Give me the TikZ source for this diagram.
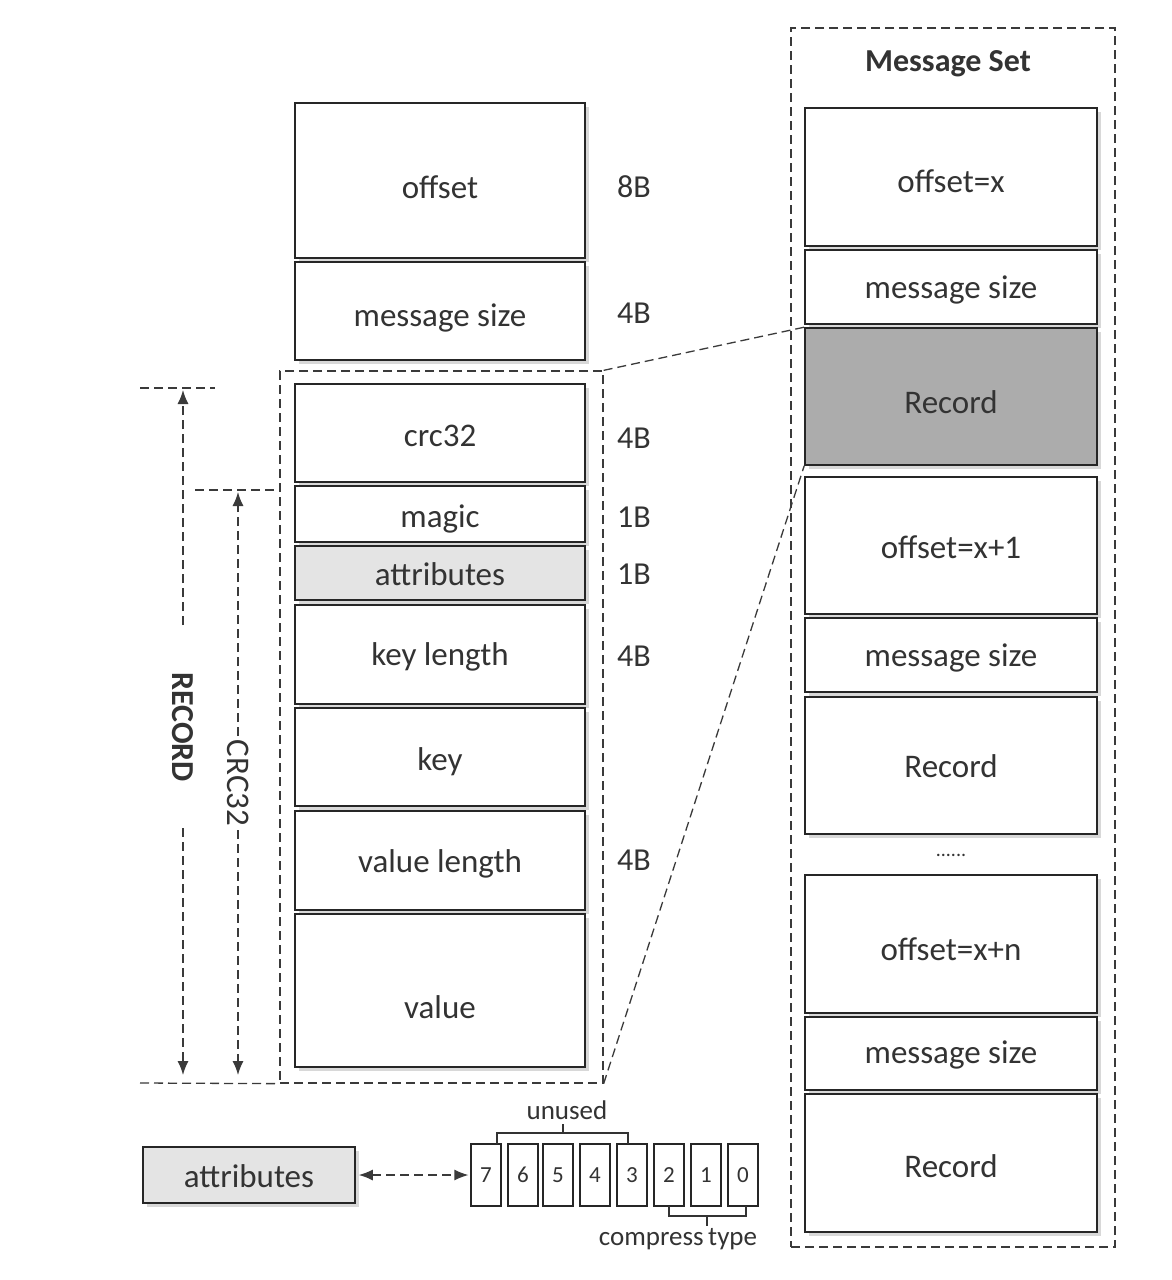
\documentclass[tikz,border=0pt]{standalone}
\usepackage{fontspec}
\setmainfont{Carlito}
\usetikzlibrary{arrows.meta,shadows,calc}
\definecolor{lightfill}{HTML}{E4E4E4}
\definecolor{recfill}{HTML}{ACACAC}
\definecolor{dashcol}{HTML}{3A3A3A}
\tikzset{
  fld/.style={draw=black!85, line width=1.6pt, fill=white, inner sep=0pt,
    font=\fontsize{33pt}{37pt}\selectfont, text=black!80, text height=32.4pt, text depth=6pt,
    drop shadow={shadow xshift=4pt, shadow yshift=-4pt, opacity=0.3}},
  th/.style={text height=#1},
  lw/.style={fld, minimum width=290pt},
  rw/.style={fld, minimum width=292pt},
  sz/.style={font=\fontsize{32pt}{36pt}\selectfont, text=black!80},
  dsh/.style={draw=dashcol, line width=1.3pt, dash pattern=on 9pt off 5pt},
  dsharr/.style={dsh, -{Latex[length=14pt,width=11pt]}},
  bit/.style={draw=black!85, line width=1.2pt, fill=white, minimum width=30pt, minimum height=62pt,
    inner sep=0pt, font=\fontsize{23pt}{26pt}\selectfont, text=black!80},
  brk/.style={draw=black!80, line width=1.4pt},
}
\begin{document}
\begin{tikzpicture}[x=1pt,y=-1pt]
\useasboundingbox (0,0) rectangle (1172,1280);
\fill[white] (0,0) rectangle (1172,1280);

% left column
\node[lw, minimum height=155pt, th=41.4pt] (offset) at (440,180.5) {offset};
\node[lw, minimum height=98pt, th=36.4pt] (msize) at (440,311) {message size};
\node[dsh, minimum width=323pt, minimum height=712pt, inner sep=0pt] (recbox) at (441.5,727) {};
\node[lw, minimum height=98pt] (crc) at (440,433) {crc32};
\node[lw, minimum height=56pt] (magic) at (440,514) {magic};
\node[lw, minimum height=54pt, fill=lightfill, th=30.4pt] (attr) at (440,573) {attributes};
\node[lw, minimum height=99pt, th=28.4pt] (keylen) at (440,654.5) {key length};
\node[lw, minimum height=98pt] (key) at (440,757) {key};
\node[lw, minimum height=99pt, th=30.4pt] (vallen) at (440,860.5) {value length};
\node[lw, minimum height=153pt, th=61.4pt] (value) at (440,990.5) {value};

% size labels
\node[sz] (s1) at (634,187) {8B};
\node[sz] (s2) at (634,313) {4B};
\node[sz] (s3) at (634,438) {4B};
\node[sz] (s4) at (634,517) {1B};
\node[sz] (s5) at (634,574) {1B};
\node[sz] (s6) at (634,656) {4B};
\node[sz] (s7) at (634,860) {4B};

% RECORD dimension
\coordinate (rtl) at (140,388);
\coordinate (rtr) at (215,388);
\coordinate (rbl) at (140,1083);
\draw[dsh] (rtl) -- (rtr);
\draw[dsh] (rbl) -- (recbox.south west);
\node[sz, rotate=-90, font=\bfseries\fontsize{32pt}{36pt}\selectfont] (reclbl) at (183,727) {RECORD};
\coordinate (ra1) at (183,625);
\coordinate (ra2) at (183,390);
\coordinate (rb1) at (183,828);
\coordinate (rb2) at (183,1075);
\draw[dsharr] (ra1) -- (ra2);
\draw[dsharr] (rb1) -- (rb2);

% CRC32 dimension
\coordinate (ctl) at (195,490);
\draw[dsh] (ctl) -- (recbox.west |- ctl);
\node[sz, rotate=-90, font=\fontsize{33pt}{36pt}\selectfont] (crclbl) at (238,783) {CRC32};
\coordinate (ca1) at (238,736);
\coordinate (ca2) at (238,492);
\coordinate (cb1) at (238,830);
\coordinate (cb2) at (238,1075);
\draw[dsharr] (ca1) -- (ca2);
\draw[dsharr] (cb1) -- (cb2);

% Message set
\node[dsh, minimum width=324pt, minimum height=1219pt, inner sep=0pt] (mset) at (953,637.5) {};
\node[sz, font=\bfseries\fontsize{32pt}{36pt}\selectfont] (msetlbl) at (948,64) {Message Set};
\node[rw, minimum height=138pt, th=36.4pt] (ox) at (951,177) {offset=x};
\node[rw, minimum height=74pt, th=28.4pt] (ms1) at (951,287) {message size};
\node[rw, minimum height=137pt, fill=recfill, th=39.4pt] (rec1) at (951,396.5) {Record};
\node[rw, minimum height=137pt, th=31.4pt] (ox1) at (951,545.5) {offset=x+1};
\node[rw, minimum height=74pt, th=28.4pt] (ms2) at (951,655) {message size};
\node[rw, minimum height=137pt, th=29.4pt] (rec2) at (951,765.5) {Record};
\node[sz, font=\fontsize{20pt}{24pt}\selectfont] (dots) at (951,855) {......};
\node[rw, minimum height=138pt, th=38.4pt] (oxn) at (951,944) {offset=x+n};
\node[rw, minimum height=73pt, th=26.4pt] (ms3) at (951,1053.5) {message size};
\node[rw, minimum height=138pt, th=34.4pt] (rec3) at (951,1163) {Record};

% zoom lines
\draw[dsh] (recbox.north east) -- (rec1.north west);
\draw[dsh] (recbox.south east) -- (rec1.south west);

% attributes bits
\node[fld, minimum width=212pt, minimum height=56pt, fill=lightfill, th=30.4pt] (battr) at (249,1175) {attributes};
\node[bit] (b7) at (486,1175) {7};
\node[bit] (b6) at (523,1175) {6};
\node[bit] (b5) at (558,1175) {5};
\node[bit] (b4) at (595,1175) {4};
\node[bit] (b3) at (632,1175) {3};
\node[bit] (b2) at (669,1175) {2};
\node[bit] (b1) at (706,1175) {1};
\node[bit] (b0) at (743,1175) {0};
\draw[dsh, {Latex[length=14pt,width=11pt]}-{Latex[length=14pt,width=11pt]}] ([xshift=3pt]battr.east) -- ([xshift=-2pt]b7.west);

\coordinate (u1) at (497,1144);
\coordinate (u2) at (628,1144);
\coordinate (ut) at (563,1124);
\draw[brk] (u1) -- (497,1133) -- (628,1133) -- (u2);
\draw[brk] (563,1133) -- (ut);
\node[sz, font=\fontsize{27pt}{30pt}\selectfont] (unused) at (567,1110) {unused};

\coordinate (c1) at (669,1206);
\coordinate (c2) at (746,1206);
\coordinate (ct) at (707,1226);
\draw[brk] (c1) -- (669,1216) -- (746,1216) -- (c2);
\draw[brk] (707,1216) -- (ct);
\node[sz, font=\fontsize{27pt}{30pt}\selectfont] (comp) at (678,1239) {compress\,type};
\end{tikzpicture}
\end{document}
